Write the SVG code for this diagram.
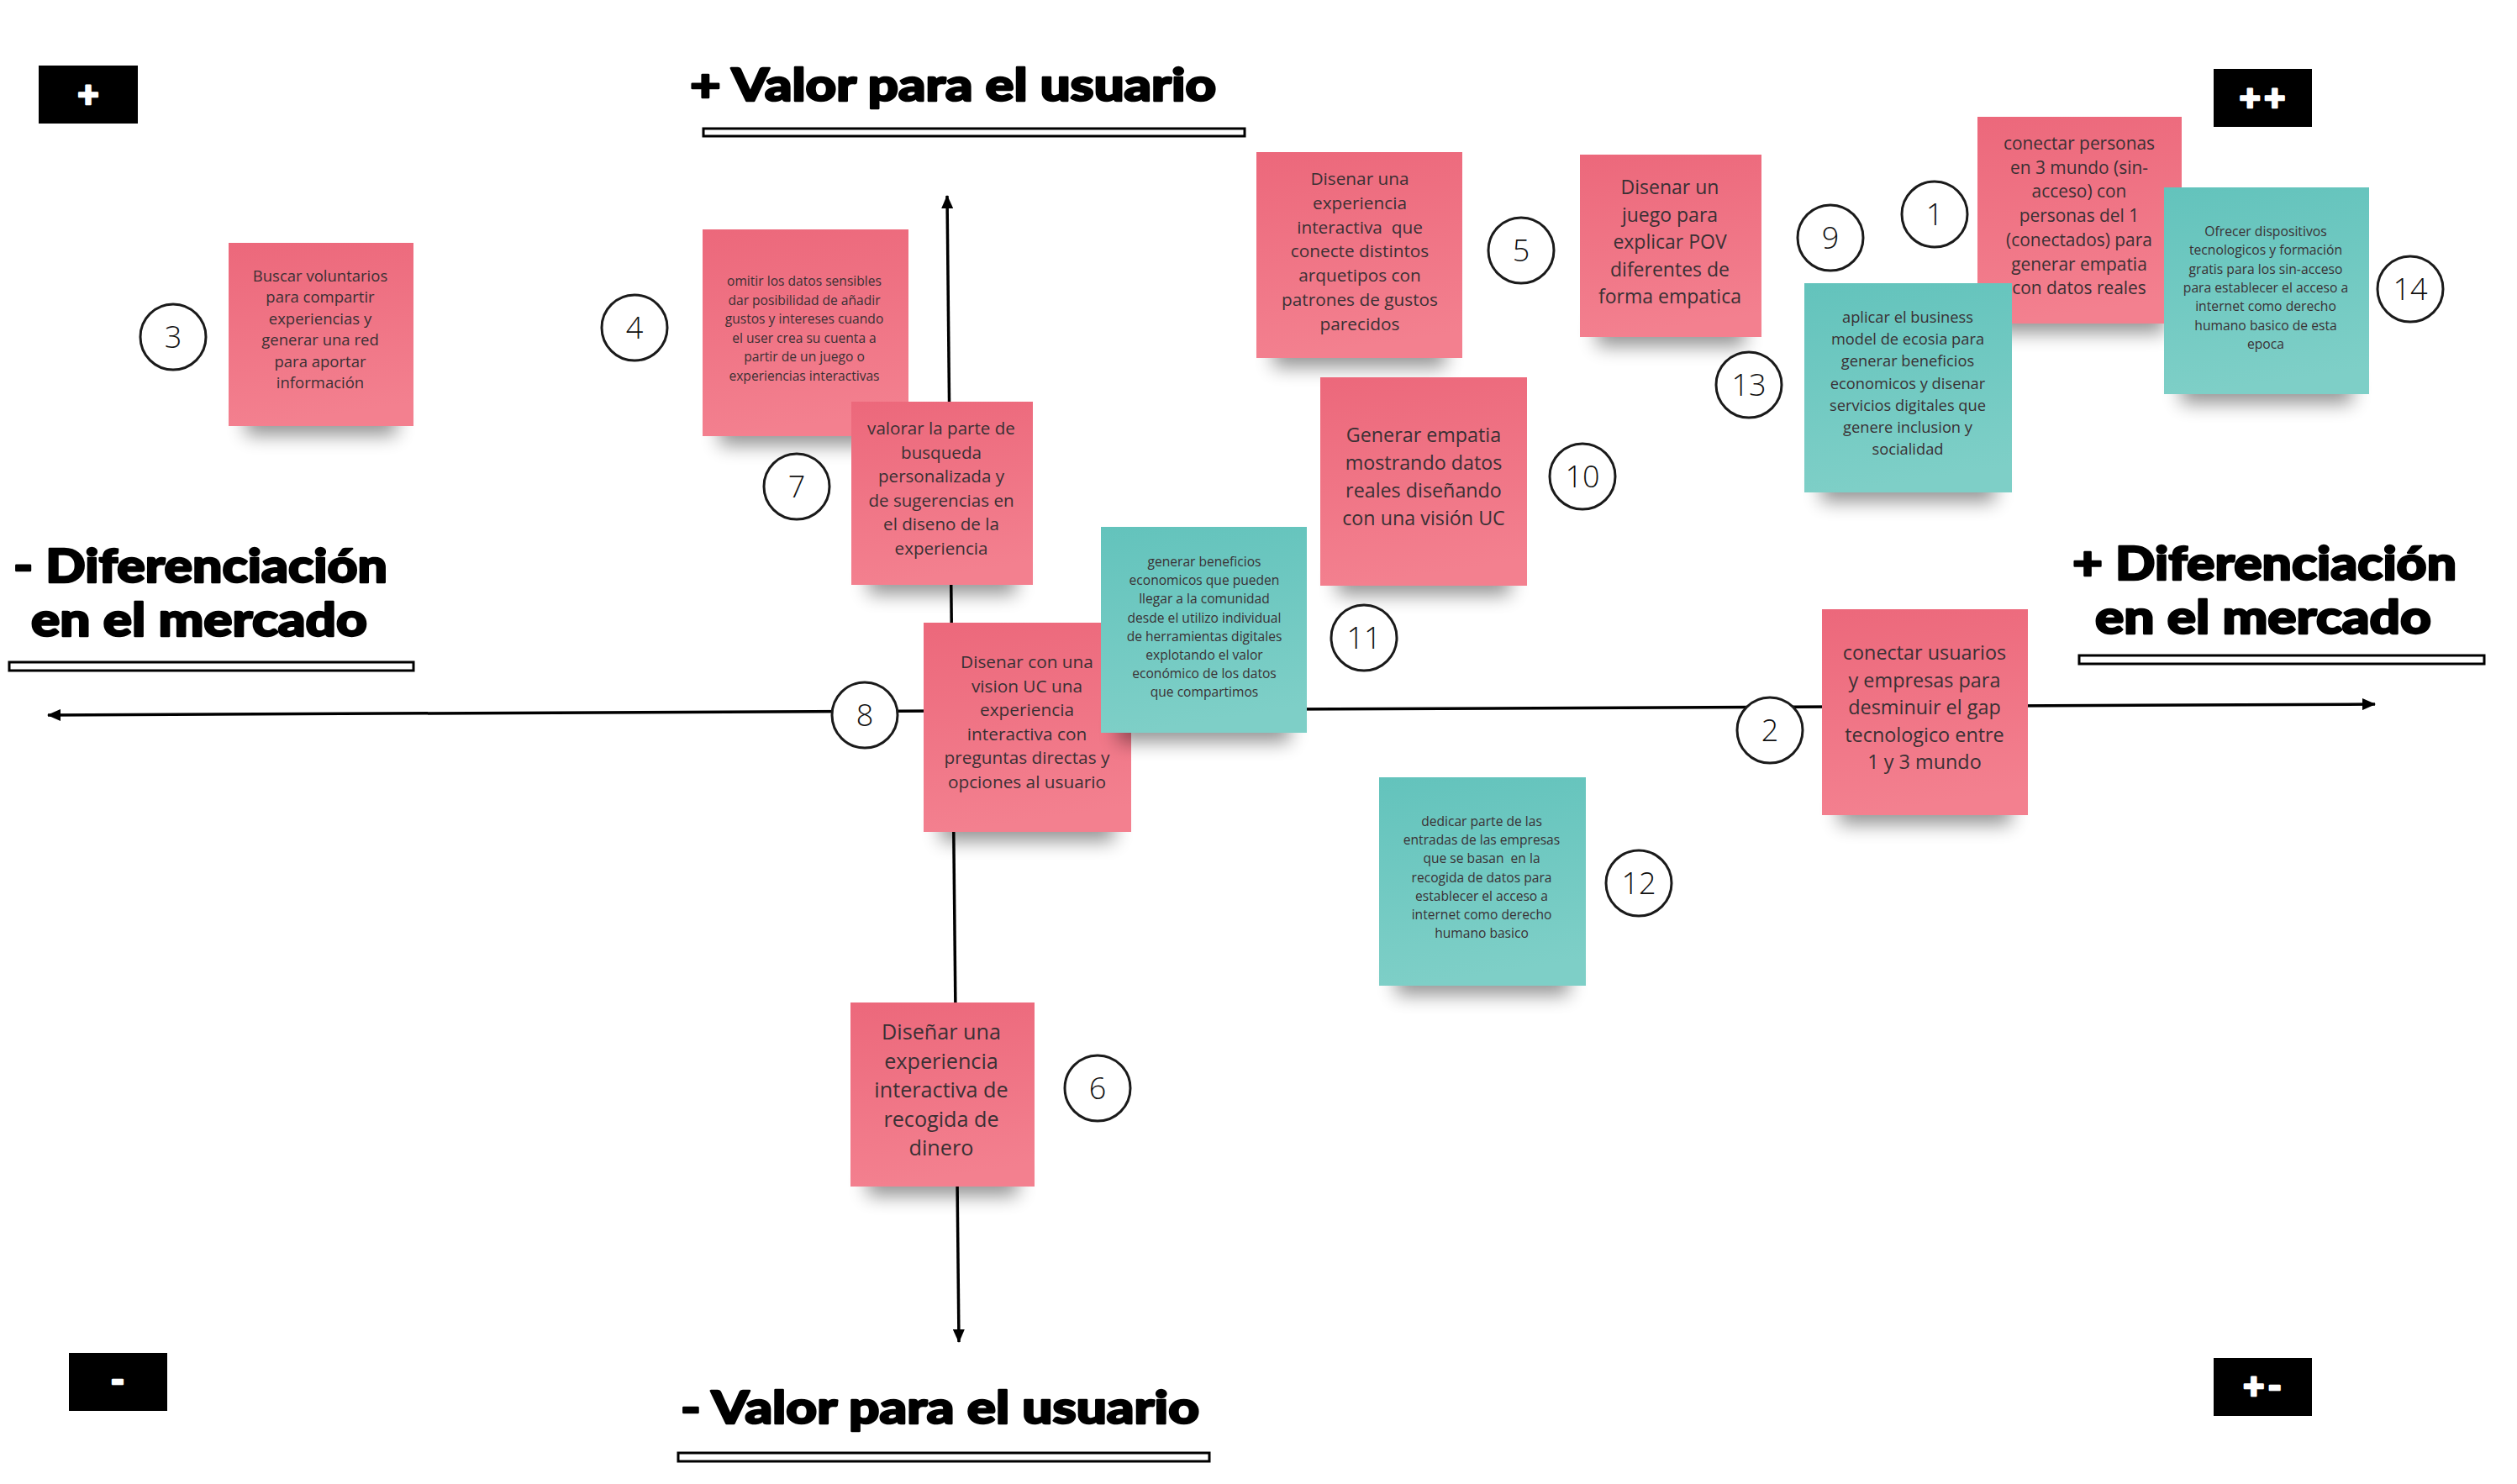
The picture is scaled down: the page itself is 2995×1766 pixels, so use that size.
<svg xmlns="http://www.w3.org/2000/svg" width="2995" height="1766" viewBox="0 0 2995 1766">
<defs>
<linearGradient id="gp" x1="0" y1="0" x2="0.15" y2="1"><stop offset="0" stop-color="#EC687B"/><stop offset="1" stop-color="#F3808F"/></linearGradient>
<linearGradient id="gt" x1="0" y1="0" x2="0.15" y2="1"><stop offset="0" stop-color="#63C3BC"/><stop offset="1" stop-color="#7ECFC7"/></linearGradient>
<filter id="blur" x="-30%" y="-100%" width="160%" height="300%"><feGaussianBlur stdDeviation="11"/></filter>
<marker id="arr" viewBox="0 0 16 14" refX="15" refY="7" markerWidth="16" markerHeight="14" markerUnits="userSpaceOnUse" orient="auto-start-reverse"><path d="M0,0 L16,7 L0,14 z" fill="#000"/></marker>
</defs>
<style>
.head{font-family:Lato,Inter,"DejaVu Sans",sans-serif;font-weight:900;fill:#000;stroke:#000;stroke-width:2.4;stroke-linejoin:round}
.ul{fill:#fff;stroke:#000;stroke-width:3}
.corner{fill:#000}
.ctext{font-family:Lato,Inter,"DejaVu Sans",sans-serif;font-weight:900;fill:#fff;stroke:#fff;stroke-width:2.5;stroke-linejoin:round;font-size:44px;letter-spacing:4px;text-anchor:middle}
.axis{fill:none;stroke:#000;stroke-width:3.5}
.pink{fill:url(#gp)}
.teal{fill:url(#gt)}
.shadow{fill:#000;opacity:0.42;filter:url(#blur)}
.st{font-family:"Open Sans","Noto Sans","Liberation Sans",sans-serif;fill:#3a3034;text-anchor:middle}
.num{fill:#fff;stroke:#1a1a1a;stroke-width:3}
.nt{font-family:"Open Sans","Noto Sans","Liberation Sans",sans-serif;font-weight:300;font-size:36px;fill:#111;text-anchor:middle}
</style>
<rect width="2995" height="1766" fill="#fff"/>

<g id="labels">
<text class="head" x="821" y="120" font-size="54" textLength="626" lengthAdjust="spacingAndGlyphs">+ Valor para el usuario</text>
<rect class="ul" x="837" y="153" width="644" height="9"/>
<text class="head" x="810" y="1694" font-size="54" textLength="617" lengthAdjust="spacingAndGlyphs">- Valor para el usuario</text>
<rect class="ul" x="807" y="1729" width="632" height="10"/>
<text class="head" x="16" y="693" font-size="56" textLength="445" lengthAdjust="spacingAndGlyphs">- Diferenciación</text>
<text class="head" x="37" y="757" font-size="56" textLength="400" lengthAdjust="spacingAndGlyphs">en el mercado</text>
<rect class="ul" x="11" y="788" width="481" height="10"/>
<text class="head" x="2466" y="690" font-size="56" textLength="457" lengthAdjust="spacingAndGlyphs">+ Diferenciación</text>
<text class="head" x="2493" y="754" font-size="56" textLength="400" lengthAdjust="spacingAndGlyphs">en el mercado</text>
<rect class="ul" x="2474" y="780" width="482" height="10"/>
</g>

<g id="corners">
<rect class="corner" x="46" y="78" width="118" height="69"/><text class="ctext" x="107" y="128">+</text>
<rect class="corner" x="2634" y="82" width="117" height="69"/><text class="ctext" x="2694" y="132">++</text>
<rect class="corner" x="82" y="1610" width="117" height="69"/><text class="ctext" x="142" y="1658">-</text>
<rect class="corner" x="2634" y="1616" width="117" height="69"/><text class="ctext" x="2694" y="1665">+-</text>
</g>

<g id="connectors">
<path class="axis" d="M1127,233 L1141,1597" marker-start="url(#arr)" marker-end="url(#arr)"/>
<path class="axis" d="M57,851 L2826,838" marker-start="url(#arr)" marker-end="url(#arr)"/>
</g>

<g id="node3">
<rect class="shadow" x="292" y="482" width="180" height="36"/>
<rect class="pink" x="272" y="289" width="220" height="218"/>
<text class="st" font-size="18.5"><tspan x="381" y="335">Buscar voluntarios</tspan><tspan x="381" y="360.4">para compartir</tspan><tspan x="381" y="385.8">experiencias y</tspan><tspan x="381" y="411.2">generar una red</tspan><tspan x="381" y="436.6">para aportar</tspan><tspan x="381" y="462">información</tspan></text>
<circle class="num" cx="206" cy="401" r="39"/><text class="nt" x="206" y="414">3</text>
</g>

<g id="node4">
<rect class="shadow" x="856" y="494" width="205" height="36"/>
<rect class="pink" x="836" y="273" width="245" height="246"/>
<text class="st" font-size="15.6"><tspan x="957" y="340">omitir los datos sensibles</tspan><tspan x="957" y="362.6">dar posibilidad de añadir</tspan><tspan x="957" y="385.2">gustos y intereses cuando</tspan><tspan x="957" y="407.8">el user crea su cuenta a</tspan><tspan x="957" y="430.4">partir de un juego o</tspan><tspan x="957" y="453">experiencias interactivas</tspan></text>
<circle class="num" cx="755" cy="390" r="39"/><text class="nt" x="755" y="403">4</text>
</g>

<g id="node7">
<rect class="shadow" x="1033" y="671" width="176" height="36"/>
<rect class="pink" x="1013" y="478" width="216" height="218"/>
<text class="st" font-size="20.6"><tspan x="1120" y="517">valorar la parte de</tspan><tspan x="1120" y="545.6">busqueda</tspan><tspan x="1120" y="574.2">personalizada y</tspan><tspan x="1120" y="602.8">de sugerencias en</tspan><tspan x="1120" y="631.4">el diseno de la</tspan><tspan x="1120" y="660">experiencia</tspan></text>
<circle class="num" cx="948" cy="579" r="39"/><text class="nt" x="948" y="592">7</text>
</g>

<g id="node5">
<rect class="shadow" x="1515" y="401" width="205" height="36"/>
<rect class="pink" x="1495" y="181" width="245" height="245"/>
<text class="st" font-size="20.8"><tspan x="1618" y="220">Disenar una</tspan><tspan x="1618" y="248.8">experiencia</tspan><tspan x="1618" y="277.6">interactiva&#160; que</tspan><tspan x="1618" y="306.4">conecte distintos</tspan><tspan x="1618" y="335.2">arquetipos con</tspan><tspan x="1618" y="364">patrones de gustos</tspan><tspan x="1618" y="392.8">parecidos</tspan></text>
<circle class="num" cx="1810" cy="298" r="39"/><text class="nt" x="1810" y="311">5</text>
</g>

<g id="node13">
<rect class="shadow" x="1900" y="376" width="176" height="36"/>
<rect class="pink" x="1880" y="184" width="216" height="217"/>
<text class="st" font-size="23"><tspan x="1987" y="231">Disenar un</tspan><tspan x="1987" y="263.5">juego para</tspan><tspan x="1987" y="296">explicar POV</tspan><tspan x="1987" y="328.5">diferentes de</tspan><tspan x="1987" y="361">forma empatica</tspan></text>
<circle class="num" cx="2081" cy="458" r="39"/><text class="nt" x="2081" y="471">13</text>
</g>

<g id="node10">
<rect class="shadow" x="1591" y="672" width="206" height="36"/>
<rect class="pink" x="1571" y="449" width="246" height="248"/>
<text class="st" font-size="23.3"><tspan x="1694" y="526">Generar empatia</tspan><tspan x="1694" y="559">mostrando datos</tspan><tspan x="1694" y="592">reales diseñando</tspan><tspan x="1694" y="625">con una visión UC</tspan></text>
<circle class="num" cx="1883" cy="567" r="39"/><text class="nt" x="1883" y="580">10</text>
</g>

<g id="node8">
<rect class="shadow" x="1119" y="965" width="207" height="36"/>
<rect class="pink" x="1099" y="741" width="247" height="249"/>
<text class="st" font-size="20.8"><tspan x="1222" y="795">Disenar con una</tspan><tspan x="1222" y="823.6">vision UC una</tspan><tspan x="1222" y="852.2">experiencia</tspan><tspan x="1222" y="880.8">interactiva con</tspan><tspan x="1222" y="909.4">preguntas directas y</tspan><tspan x="1222" y="938">opciones al usuario</tspan></text>
<circle class="num" cx="1029" cy="851" r="39"/><text class="nt" x="1029" y="864">8</text>
</g>

<g id="node11">
<rect class="shadow" x="1330" y="847" width="205" height="36"/>
<rect class="teal" x="1310" y="627" width="245" height="245"/>
<text class="st" font-size="15.6"><tspan x="1433" y="674">generar beneficios</tspan><tspan x="1433" y="696.2">economicos que pueden</tspan><tspan x="1433" y="718.4">llegar a la comunidad</tspan><tspan x="1433" y="740.6">desde el utilizo individual</tspan><tspan x="1433" y="762.8">de herramientas digitales</tspan><tspan x="1433" y="785">explotando el valor</tspan><tspan x="1433" y="807.2">económico de los datos</tspan><tspan x="1433" y="829.4">que compartimos</tspan></text>
<circle class="num" cx="1623" cy="759" r="39"/><text class="nt" x="1623" y="772">11</text>
</g>

<g id="node1">
<rect class="shadow" x="2373" y="360" width="203" height="36"/>
<rect class="pink" x="2353" y="139" width="243" height="246"/>
<text class="st" font-size="20.9"><tspan x="2474" y="178">conectar personas</tspan><tspan x="2474" y="206.7">en 3 mundo (sin-</tspan><tspan x="2474" y="235.4">acceso) con</tspan><tspan x="2474" y="264.1">personas del 1</tspan><tspan x="2474" y="292.8">(conectados) para</tspan><tspan x="2474" y="321.5">generar empatia</tspan><tspan x="2474" y="350.2">con datos reales</tspan></text>
<circle class="num" cx="2302" cy="255" r="39"/><text class="nt" x="2302" y="268">1</text>
</g>

<g id="node9">
<rect class="shadow" x="2167" y="561" width="207" height="36"/>
<rect class="teal" x="2147" y="337" width="247" height="249"/>
<text class="st" font-size="18.3"><tspan x="2270" y="384">aplicar el business</tspan><tspan x="2270" y="410.2">model de ecosia para</tspan><tspan x="2270" y="436.4">generar beneficios</tspan><tspan x="2270" y="462.6">economicos y disenar</tspan><tspan x="2270" y="488.8">servicios digitales que</tspan><tspan x="2270" y="515">genere inclusion y</tspan><tspan x="2270" y="541.2">socialidad</tspan></text>
<circle class="num" cx="2178" cy="283" r="39"/><text class="nt" x="2178" y="296">9</text>
</g>

<g id="node14">
<rect class="shadow" x="2595" y="444" width="204" height="36"/>
<rect class="teal" x="2575" y="223" width="244" height="246"/>
<text class="st" font-size="15.7"><tspan x="2696" y="281">Ofrecer dispositivos</tspan><tspan x="2696" y="303.3">tecnologicos y formación</tspan><tspan x="2696" y="325.6">gratis para los sin-acceso</tspan><tspan x="2696" y="347.9">para establecer el acceso a</tspan><tspan x="2696" y="370.2">internet como derecho</tspan><tspan x="2696" y="392.5">humano basico de esta</tspan><tspan x="2696" y="414.8">epoca</tspan></text>
<circle class="num" cx="2868" cy="344" r="39"/><text class="nt" x="2868" y="357">14</text>
</g>

<g id="node2">
<rect class="shadow" x="2188" y="945" width="205" height="36"/>
<rect class="pink" x="2168" y="725" width="245" height="245"/>
<text class="st" font-size="23.4"><tspan x="2290" y="785">conectar usuarios</tspan><tspan x="2290" y="817.5">y empresas para</tspan><tspan x="2290" y="850">desminuir el gap</tspan><tspan x="2290" y="882.5">tecnologico entre</tspan><tspan x="2290" y="915">1 y 3 mundo</tspan></text>
<circle class="num" cx="2106" cy="869" r="39"/><text class="nt" x="2106" y="882">2</text>
</g>

<g id="node12">
<rect class="shadow" x="1661" y="1148" width="206" height="36"/>
<rect class="teal" x="1641" y="925" width="246" height="248"/>
<text class="st" font-size="15.6"><tspan x="1763" y="983">dedicar parte de las</tspan><tspan x="1763" y="1005.2">entradas de las empresas</tspan><tspan x="1763" y="1027.4">que se basan&#160; en la</tspan><tspan x="1763" y="1049.6">recogida de datos para</tspan><tspan x="1763" y="1071.8">establecer el acceso a</tspan><tspan x="1763" y="1094">internet como derecho</tspan><tspan x="1763" y="1116.2">humano basico</tspan></text>
<circle class="num" cx="1950" cy="1051" r="39"/><text class="nt" x="1950" y="1064">12</text>
</g>

<g id="node6">
<rect class="shadow" x="1032" y="1387" width="179" height="36"/>
<rect class="pink" x="1012" y="1193" width="219" height="219"/>
<text class="st" font-size="25.2"><tspan x="1120" y="1237">Diseñar una</tspan><tspan x="1120" y="1271.6">experiencia</tspan><tspan x="1120" y="1306.2">interactiva de</tspan><tspan x="1120" y="1340.8">recogida de</tspan><tspan x="1120" y="1375.4">dinero</tspan></text>
<circle class="num" cx="1306" cy="1295" r="39"/><text class="nt" x="1306" y="1308">6</text>
</g>
</svg>
